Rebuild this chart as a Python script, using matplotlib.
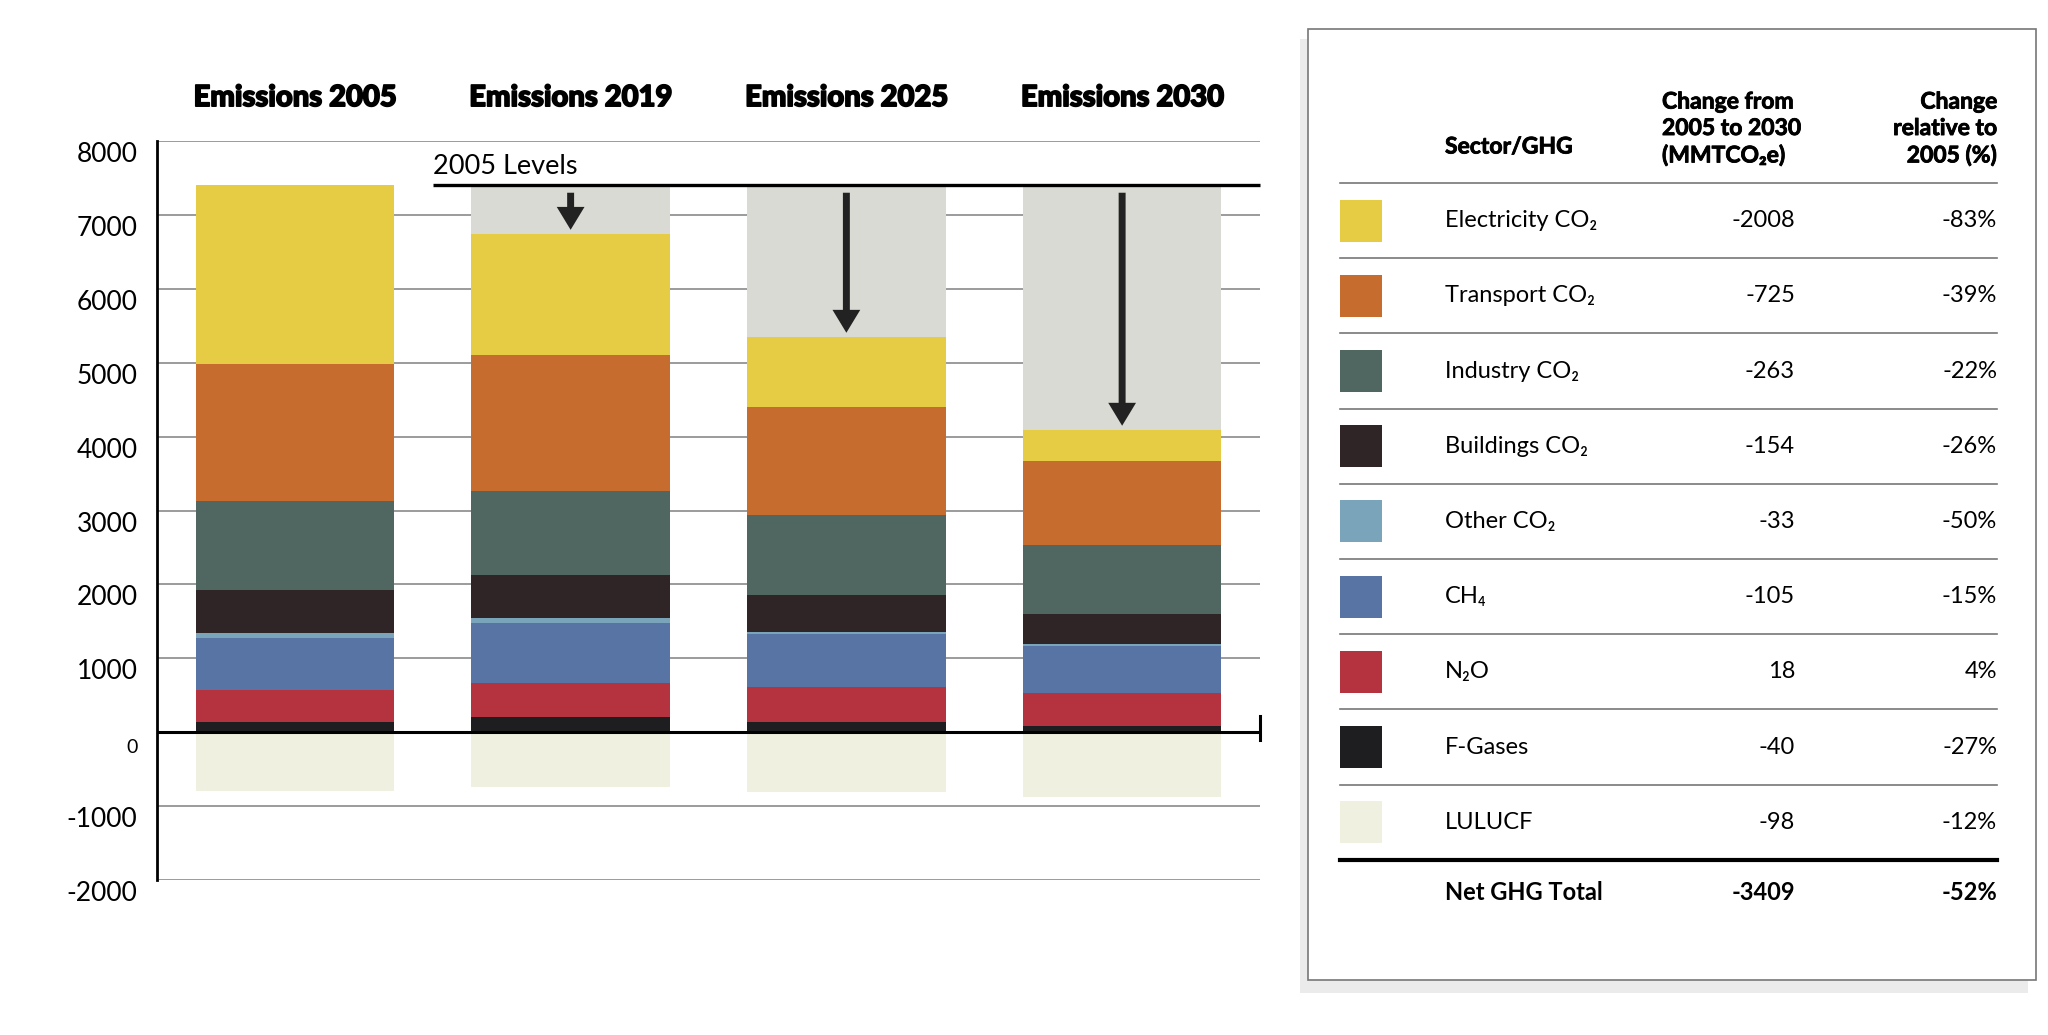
import matplotlib.pyplot as plt
import matplotlib.transforms as mtransforms
import matplotlib.patheffects as pe
import numpy as np
from matplotlib.patches import Rectangle

plt.rcParams['font.family'] = ['Lato', 'DejaVu Sans']

# ---- data (MMTCO2e) ----
years = ['Emissions 2005', 'Emissions 2019', 'Emissions 2025', 'Emissions 2030']
fgases = [140, 200, 135, 90]
n2o = [430, 460, 474, 440]
ch4 = [705, 812, 717, 634]
other_co2 = [65, 68, 30, 27]
buildings = [580, 581, 498, 406]
industry = [1205, 1137, 1082, 933]
transport = [1855, 1840, 1462, 1137]
electricity = [2420, 1640, 947, 420]
lulucf = [-790, -745, -810, -880]
level_2005 = 7400

sectors = ['Electricity CO₂', 'Transport CO₂', 'Industry CO₂', 'Buildings CO₂',
           'Other CO₂', 'CH₄', 'N₂O', 'F-Gases', 'LULUCF']
change_abs = ['-2008', '-725', '-263', '-154', '-33', '-105', '18', '-40', '-98']
change_pct = ['-83%', '-39%', '-22%', '-26%', '-50%', '-15%', '4%', '-27%', '-12%']
net_total = ['Net GHG Total', '-3409', '-52%']

colors = {
    'Electricity': '#E6CB45', 'Transport': '#C66C2F', 'Industry': '#506661',
    'Buildings': '#2F2426', 'Other': '#79A4B9', 'CH4': '#5874A4',
    'N2O': '#B5333F', 'F-Gases': '#1E1D1F', 'LULUCF': '#F0F0E0',
}
swatch_colors = list(colors.values())
gray_fill = '#DADAD4'
heavy = [pe.withStroke(linewidth=1.2, foreground='black')]
semi_heavy = [pe.withStroke(linewidth=0.6, foreground='black')]

fig = plt.figure(figsize=(20.48, 10.35), dpi=100)

# ---- stacked bar chart ----
ax = fig.add_axes([157 / 2048, 1 - 880 / 1035, (1260 - 157) / 2048, 739 / 1035])
x = np.arange(len(years))
w = 0.72
stack = [('F-Gases', fgases), ('N2O', n2o), ('CH4', ch4), ('Other', other_co2),
         ('Buildings', buildings), ('Industry', industry),
         ('Transport', transport), ('Electricity', electricity)]
bottom = np.zeros(len(years))
for name, vals in stack:
    ax.bar(x, vals, w, bottom=bottom, color=colors[name], zorder=2, linewidth=0)
    bottom += np.array(vals)
totals = bottom.copy()
ax.bar(x, level_2005 - totals, w, bottom=totals, color=gray_fill, zorder=2, linewidth=0)
ax.bar(x, lulucf, w, color=colors['LULUCF'], zorder=2, linewidth=0)

# arrows showing the drop from 2005 levels
for i in range(1, len(years)):
    ax.annotate('', xy=(x[i], totals[i] + 60), xytext=(x[i], 7300),
                arrowprops=dict(arrowstyle='simple,head_length=1.65,head_width=2.0,tail_width=0.5',
                                mutation_scale=10, fc='#222222', lw=0,
                                shrinkA=0, shrinkB=0), zorder=4)

# 2005 levels line
ax.plot([0.5, 3.5], [level_2005, level_2005], color='black', lw=2.4, zorder=5,
        solid_capstyle='butt', clip_on=False)
ax.text(0.5, 7560, '2005 Levels', fontsize=19.5, ha='left', va='baseline')

# zero line with end tick
ax.axhline(0, color='black', lw=2.2, zorder=5)
ax.plot([3.5, 3.5], [220, -100], color='black', lw=2.2, zorder=5, clip_on=False)

ax.set_xlim(-0.5, 3.5)
ax.set_ylim(-2000, 8000)
ax.set_xticks([])
yt = [-2000, -1000, 0, 1000, 2000, 3000, 4000, 5000, 6000, 7000, 8000]
ax.set_yticks(yt)
ax.set_yticklabels([str(v) for v in yt])
ax.tick_params(axis='y', length=0, pad=14, labelsize=19)
ax.yaxis.grid(True, color='#8a8a8a', lw=1.2, zorder=0)
ax.set_axisbelow(True)
for s in ['top', 'right', 'bottom']:
    ax.spines[s].set_visible(False)
ax.spines['left'].set_linewidth(2.0)
for v, lab in zip(yt, ax.get_yticklabels()):
    dy = -0.14 if v == 0 else -0.11
    lab.set_transform(lab.get_transform() +
                      mtransforms.ScaledTranslation(0, dy, fig.dpi_scale_trans))
    if v == 0:
        lab.set_fontsize(14)

for i, lab in enumerate(years):
    ax.text(x[i], 8580, lab, fontsize=21, fontweight='black', ha='center', va='center',
            clip_on=False, path_effects=heavy)

# ---- table panel (pixel coordinates) ----
tb = fig.add_axes([0, 0, 1, 1], zorder=-1)
tb.set_xlim(0, 2048)
tb.set_ylim(1035, 0)
tb.axis('off')
tb.add_patch(Rectangle((1300, 39), 728, 954, color='#EBEBEB', lw=0))
tb.add_patch(Rectangle((1308, 29), 728, 951, fc='white', ec='#777777', lw=1.2))

tb.text(1445, 147, 'Sector/GHG', fontsize=16.5, fontweight='bold', va='center',
        path_effects=semi_heavy)
tb.text(1662, 129, 'Change from\n2005 to 2030\n(MMTCO₂e)', fontsize=16.5, fontweight='bold',
        va='center', ha='left', linespacing=1.32, path_effects=semi_heavy)
tb.text(1997, 129, 'Change\nrelative to\n2005 (%)', fontsize=16.5, fontweight='bold',
        va='center', ha='right', multialignment='right', linespacing=1.32,
        path_effects=semi_heavy)

row_h = 75.2
top_line = 183
for k in range(len(sectors)):
    y0 = top_line + k * row_h
    tb.plot([1340, 1997], [y0, y0], color='#777777', lw=1.2)
    yc = y0 + row_h / 2
    tb.add_patch(Rectangle((1340, yc - 21), 42, 42, color=swatch_colors[k], lw=0))
    tb.text(1445, yc, sectors[k], fontsize=17, va='center')
    tb.text(1795, yc, change_abs[k], fontsize=17, va='center', ha='right')
    tb.text(1997, yc, change_pct[k], fontsize=17, va='center', ha='right')
y_end = top_line + len(sectors) * row_h
tb.plot([1340, 1997], [y_end, y_end], color='black', lw=3)
tb.text(1445, y_end + 33, net_total[0], fontsize=17, fontweight='bold', va='center')
tb.text(1795, y_end + 33, net_total[1], fontsize=17, fontweight='bold', va='center', ha='right')
tb.text(1997, y_end + 33, net_total[2], fontsize=17, fontweight='bold', va='center', ha='right')

plt.savefig('out.png', dpi=100)
